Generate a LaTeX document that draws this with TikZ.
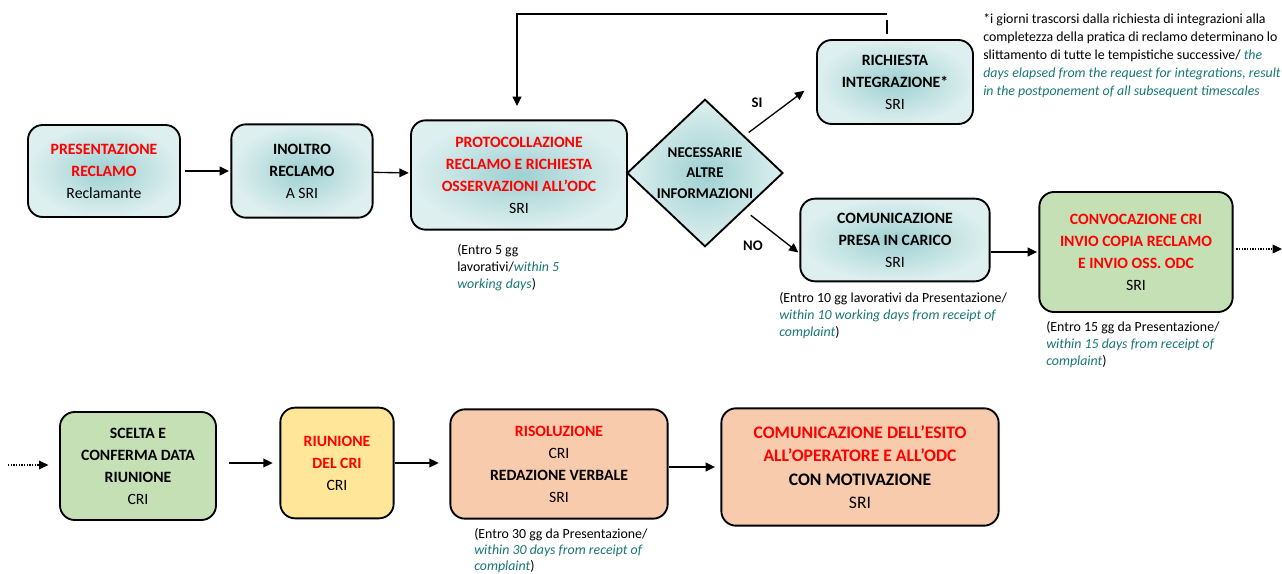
\documentclass[tikz,border=0pt]{standalone}
\usepackage{fontspec}
\setmainfont{Carlito}
\usepackage{xcolor}
\usetikzlibrary{shapes.geometric,arrows.meta}

\definecolor{rosso}{RGB}{255,0,0}
\definecolor{inglese}{RGB}{24,118,118}
\definecolor{tealmid}{RGB}{158,208,210}
\definecolor{tealedge}{RGB}{222,239,239}
\definecolor{verdino}{RGB}{197,224,180}
\definecolor{giallino}{RGB}{255,230,153}
\definecolor{pesca}{RGB}{248,203,173}

\newcommand{\rosso}[1]{\textcolor{rosso}{\textbf{#1}}}
\newcommand{\ingl}[1]{\textcolor{inglese}{\textit{#1}}}

\begin{document}
\begin{tikzpicture} [x=0.75pt, y=-0.75pt,
	box/.style={draw=black, line width=1.4pt, rounded corners=11pt, align=center, inner sep=0pt, font=\fontsize{11.8}{16.5}\selectfont},
	tealbox/.style={box, inner color=tealmid, outer color=tealedge},
	greenbox/.style={box, fill=verdino},
	yellowbox/.style={box, fill=giallino},
	peachbox/.style={box, fill=pesca},
	nota/.style={anchor=north west, align=left, inner sep=0pt, font=\fontsize{10.4}{12.75}\selectfont},
	freccia/.style={-{Triangle[length=7pt,width=6.5pt]}, line width=1pt},
	puntini/.style={freccia, densely dotted}]
	\useasboundingbox (0,0) rectangle (1282,574);
	% prima riga
		\node[tealbox, minimum width=114pt, minimum height=69pt] (pres) at (104,171) {\rosso{PRESENTAZIONE}\\ \rosso{RECLAMO}\\ Reclamante};
		\node[tealbox, minimum width=106pt, minimum height=70pt] (inoltro) at (302,171) {\textbf{INOLTRO}\\ \textbf{RECLAMO}\\ A SRI};
		\node[tealbox, minimum width=162pt, minimum height=82pt] (prot) at (519,175) {\rosso{PROTOCOLLAZIONE}\\ \rosso{RECLAMO E RICHIESTA}\\ \rosso{OSSERVAZIONI ALL’ODC}\\ SRI};
		\node[draw=black, line width=1.4pt, diamond, inner color=tealmid, outer color=tealedge, minimum width=117pt, minimum height=106pt, inner sep=0pt, align=center, font=\fontsize{11.2}{15.5}\selectfont] (dia) at (705,173) {\textbf{NECESSARIE}\\ \textbf{ALTRE}\\ \textbf{INFORMAZIONI}};
		\node[tealbox, minimum width=117pt, minimum height=63pt] (rich) at (895,82) {\textbf{RICHIESTA}\\ \textbf{INTEGRAZIONE*}\\ SRI};
		\node[tealbox, minimum width=142pt, minimum height=62pt] (comun) at (895,240) {\textbf{COMUNICAZIONE}\\ \textbf{PRESA IN CARICO}\\ SRI};
		\node[greenbox, minimum width=145pt, minimum height=90pt] (conv) at (1136,252) {\rosso{CONVOCAZIONE CRI}\\ \rosso{INVIO COPIA RECLAMO}\\ \rosso{E INVIO OSS. ODC}\\ SRI};
		\coordinate (fuori) at (1282,249);
	% seconda riga
		\coordinate (dentro) at (8,465);
		\node[greenbox, minimum width=117pt, minimum height=81pt] (scelta) at (138,466) {\textbf{SCELTA E}\\ \textbf{CONFERMA DATA}\\ \textbf{RIUNIONE}\\ CRI};
		\node[yellowbox, minimum width=85pt, minimum height=83pt] (riun) at (337,463) {\rosso{RIUNIONE}\\ \rosso{DEL CRI}\\ CRI};
		\node[peachbox, minimum width=163pt, minimum height=82pt] (risol) at (559,464) {\rosso{RISOLUZIONE}\\ CRI\\ \textbf{REDAZIONE VERBALE}\\ SRI};
		\node[peachbox, minimum width=208pt, minimum height=88pt, font=\fontsize{13.2}{17.5}\selectfont] (esito) at (860,467) {\rosso{COMUNICAZIONE DELL’ESITO}\\ \rosso{ALL’OPERATORE E ALL’ODC}\\ \textbf{CON MOTIVAZIONE}\\ SRI};
	% frecce
		\draw[freccia, shorten <=3pt, shorten >=1pt] (pres) -- (inoltro);
		\draw[freccia, shorten >=1pt] (inoltro) -- (prot);
		\draw[freccia, shorten <=4pt, shorten >=11pt] (dia.north east) -- (rich.west);
		\draw[freccia, shorten <=6pt, shorten >=1pt] (dia.south east) -- ([yshift=-10pt]comun.west);
		\draw[freccia, shorten >=1pt] (comun.east |- conv.west) -- (conv.west);
		\draw[puntini, shorten <=2pt] (conv.east |- fuori) -- (fuori);
		\coordinate (ritorno) at (517,14);
		\coordinate (spigolo) at (887,14);
		\draw[line width=1pt, shorten <=4pt, shorten >=4.5pt] ([xshift=-6pt]rich.north) -- (spigolo);
		\draw[freccia, shorten >=10pt] (spigolo) -- (ritorno) -- (ritorno |- prot.north);
		\draw[puntini, shorten >=8pt] (dentro) -- (dentro -| scelta.west);
		\draw[freccia, shorten <=9pt, shorten >=5pt] (scelta.east |- riun.west) -- (riun.west);
		\draw[freccia, shorten >=8pt] (riun.east) -- (riun.east -| risol.west);
		\draw[freccia, shorten >=4pt] (risol.east |- esito.west) -- (esito.west);
	% etichette
		\node[font=\fontsize{11}{12}\selectfont\bfseries] (si) at (757,103) {SI};
		\node[font=\fontsize{11}{12}\selectfont\bfseries] (no) at (753,246) {NO};
	% note
		\node[nota] (nota5) at (457,244) {(Entro 5 gg\\ lavorativi/\ingl{within 5}\\ \ingl{working days})};
		\node[nota] (nota10) at (779,292) {(Entro 10 gg lavorativi da Presentazione/\\ \ingl{within 10 working days from receipt of}\\ \ingl{complaint})};
		\node[nota] (nota15) at (1046,321) {(Entro 15 gg da Presentazione/\\ \ingl{within 15 days from receipt of}\\ \ingl{complaint})};
		\node[nota, font=\fontsize{10.4}{12}\selectfont] (nota30) at (474,528) {(Entro 30 gg da Presentazione/\\ \ingl{within 30 days from receipt of}\\ \ingl{complaint})};
		\node[nota, font=\fontsize{10.4}{13.5}\selectfont] (asterisco) at (983,13) {*i giorni trascorsi dalla richiesta di integrazioni alla\\ completezza della pratica di reclamo determinano lo\\ slittamento di tutte le tempistiche successive/ \ingl{the}\\ \ingl{days elapsed from the request for integrations, result}\\ \ingl{in the postponement of all subsequent timescales}};
	\end{tikzpicture}
\end{document}
